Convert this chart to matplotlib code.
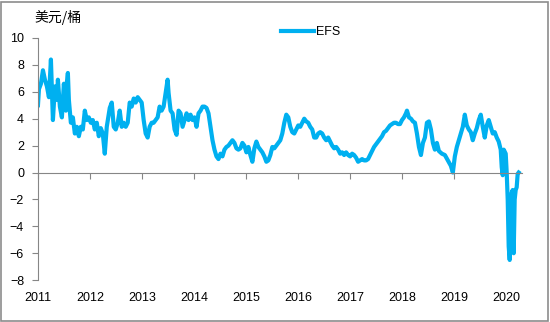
import numpy as np
import pandas as pd
import matplotlib
matplotlib.use('Agg')
import matplotlib.pyplot as plt
from matplotlib.patches import Rectangle
import matplotlib.transforms as mtransforms

plt.rcParams['font.family'] = ['Liberation Sans', 'Noto Sans CJK SC', 'DejaVu Sans']

# EFS价差（美元/桶），周序号为自2011-01-01起的周数
weeks = [0, 1, 3, 5, 7, 9, 11, 13, 15, 17, 19, 20, 22, 24, 26, 28, 29, 30, 31, 33,
         35, 37, 39, 41, 43, 45, 47, 49, 51, 53, 55, 57, 59, 61, 63, 65, 67, 69, 72, 74,
         76, 78, 80, 82, 84, 86, 88, 90, 92, 94, 96, 98, 100, 102, 104, 106, 108, 110, 112, 114,
         116, 118, 120, 122, 124, 126, 128, 130, 131, 133, 135, 137, 139, 141, 143, 145, 147, 149, 151, 153,
         155, 157, 159, 161, 163, 165, 167, 169, 171, 173, 175, 177, 179, 181, 183, 185, 187, 189, 191, 193,
         195, 197, 199, 201, 203, 205, 207, 209, 211, 213, 215, 217, 219, 221, 223, 225, 227, 229, 231, 233,
         235, 237, 239, 241, 243, 245, 247, 249, 251, 253, 255, 257, 259, 261, 263, 265, 267, 269, 271, 273,
         275, 277, 279, 281, 283, 285, 287, 289, 291, 293, 295, 297, 299, 301, 303, 305, 307, 309, 311, 313,
         315, 317, 319, 321, 323, 325, 327, 329, 331, 333, 335, 337, 339, 341, 343, 345, 347, 349, 351, 353,
         355, 357, 359, 361, 363, 365, 367, 369, 370, 372, 374, 376, 378, 380, 382, 384, 386, 388, 390, 392,
         394, 396, 398, 400, 402, 405, 408, 411, 414, 416, 418, 420, 422, 424, 426, 428, 430, 432, 434, 436,
         438, 440, 442, 444, 446, 448, 450, 452, 454, 456, 458, 460, 462, 464, 465, 466, 467, 469, 470, 471,
         472, 473, 474, 475, 476, 477, 478, 479, 480, 481, 482]
efs = [5.0, 6.2, 6.6, 7.6, 6.9, 6.4, 5.6, 8.4, 3.9, 6.4, 5.4, 6.9, 4.9, 4.1, 6.6, 4.6, 6.7, 7.4, 5.4, 3.7,
       4.1, 2.9, 3.4, 2.7, 3.4, 3.2, 4.6, 3.9, 4.1, 3.7, 3.9, 3.2, 3.7, 2.7, 3.3, 2.9, 1.4, 3.4, 4.8, 5.2,
       3.4, 3.2, 3.7, 4.6, 3.4, 3.7, 3.4, 3.7, 5.2, 4.9, 5.5, 5.2, 5.6, 5.4, 5.2, 3.9, 2.9, 2.6, 3.4, 3.7,
       3.7, 3.9, 4.1, 4.9, 4.6, 4.9, 5.9, 6.9, 5.9, 4.6, 4.4, 3.2, 2.8, 4.6, 4.4, 3.4, 3.9, 4.4, 3.9, 4.3,
       3.9, 4.1, 3.4, 4.4, 4.6, 4.9, 4.9, 4.8, 4.4, 3.4, 2.4, 1.7, 1.2, 1.0, 1.4, 1.2, 1.7, 1.9, 2.0, 2.2,
       2.4, 2.2, 1.8, 1.7, 1.8, 2.2, 2.0, 1.5, 1.9, 1.3, 0.8, 1.8, 2.3, 1.9, 1.7, 1.5, 1.2, 0.8, 0.9, 1.3,
       1.9, 1.8, 2.0, 2.2, 2.4, 2.9, 3.7, 4.3, 4.1, 3.4, 3.0, 2.9, 3.2, 3.5, 3.4, 3.7, 4.0, 3.8, 3.7, 3.4,
       3.2, 2.6, 2.6, 2.9, 3.0, 2.9, 2.6, 2.4, 2.6, 2.3, 2.0, 1.8, 1.9, 1.7, 1.4, 1.5, 1.3, 1.5, 1.3, 1.2,
       1.4, 1.3, 1.1, 0.8, 0.9, 1.0, 0.9, 0.9, 1.0, 1.3, 1.6, 1.9, 2.1, 2.3, 2.5, 2.7, 3.0, 3.1, 3.3, 3.5,
       3.6, 3.7, 3.7, 3.6, 3.6, 3.9, 4.1, 4.4, 4.6, 4.1, 4.0, 3.8, 3.7, 2.9, 1.9, 1.3, 2.2, 2.6, 3.7, 3.8,
       3.2, 2.2, 1.7, 2.2, 1.6, 1.4, 1.3, 0.9, 0.5, 0.0, 1.2, 1.9, 2.4, 2.9, 3.4, 4.3, 3.5, 3.2, 3.0, 2.4,
       2.9, 3.3, 3.9, 4.3, 3.4, 2.6, 3.5, 3.9, 3.4, 2.9, 3.0, 2.6, 2.3, 1.7, 0.4, -0.2, 1.7, 1.4, 0.0, -2.0,
       -5.5, -6.5, -4.5, -1.5, -1.3, -6.0, -2.0, -1.3, -1.1, -0.1, 0.0]
year_labels = ['2011', '2012', '2013', '2014', '2015', '2016', '2017', '2018', '2019', '2020']

dates = pd.Timestamp('2011-01-01') + pd.to_timedelta(np.array(weeks) * 7, unit='D')
years = pd.to_datetime([y + '-01-01' for y in year_labels])

fig = plt.figure(figsize=(5.5, 3.22), dpi=100)
ax = fig.add_axes([0.069, 0.130, 0.88, 0.752])

line_color = '#00B0F0'
ax.plot(dates, efs, color=line_color, lw=3, label='EFS', solid_joinstyle='round')

ax.set_ylim(-8, 10)
ax.set_yticks(np.arange(-8, 11, 2))
ax.set_xlim(pd.Timestamp('2011-01-01'), pd.Timestamp('2020-04-20'))

for s in ['top', 'right']:
    ax.spines[s].set_visible(False)
ax.spines['left'].set_color('#868686')
ax.spines['bottom'].set_color('#868686')
ax.spines['bottom'].set_position(('data', 0))

ax.set_xticks(years)
ax.set_xticklabels([])
ax.tick_params(axis='x', direction='out', length=4, color='#868686')
ax.tick_params(axis='y', direction='out', length=4, color='#868686', labelsize=9, pad=6)

# 年份标签放在图底部
trans = mtransforms.blended_transform_factory(ax.transData, ax.transAxes)
for d, lab in zip(years, year_labels):
    ax.text(d, -0.075, lab, transform=trans, ha='center', va='center', fontsize=9)

fig.text(0.062, 0.945, '美元/桶', fontsize=10, ha='left', va='center',
         family=['Noto Sans CJK SC', 'DejaVu Sans'])

fig.legend(loc='center', bbox_to_anchor=(0.565, 0.9), frameon=False, fontsize=9,
           handlelength=2.6, handletextpad=0.2)

fig.add_artist(Rectangle((0.002, 0.003), 0.994, 0.992, transform=fig.transFigure,
                         fill=False, edgecolor='#8c8c8c', lw=1.2))

fig.savefig('out.png', dpi=100)
